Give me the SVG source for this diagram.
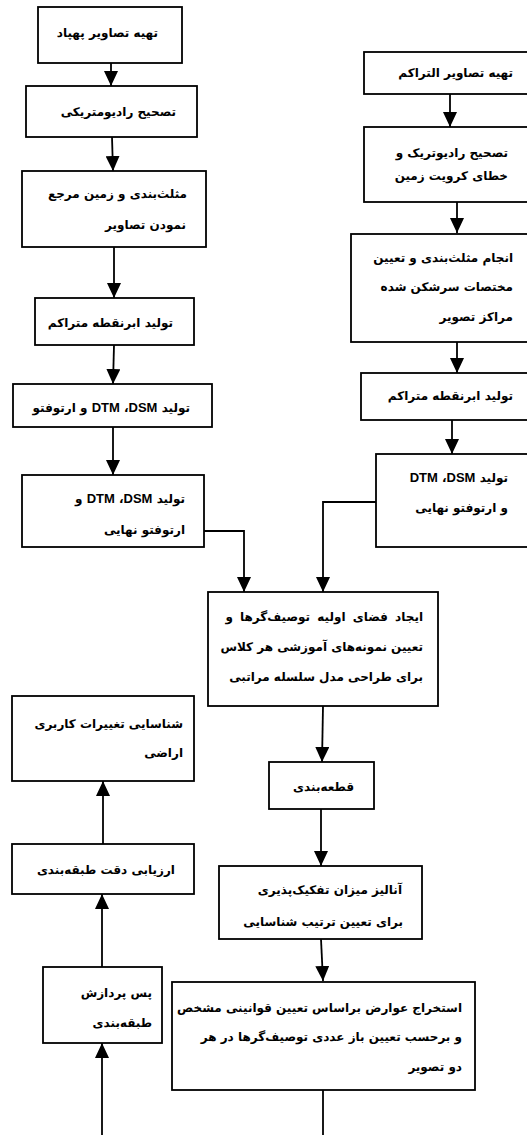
<svg xmlns="http://www.w3.org/2000/svg" width="527" height="1135" viewBox="0 0 527 1135">
<style>
rect.n{fill:#fff;stroke:#000;stroke-width:1.8}
text{font-family:"DejaVu Sans","Noto Sans",sans-serif;font-weight:bold;font-size:12px;fill:#000;direction:rtl;text-anchor:start}
tspan.l{font-family:"Liberation Sans",Arial,sans-serif;font-size:13px}
#connectors path{fill:none;stroke:#000;stroke-width:1.8}
</style>
<defs>
<marker id="ah" viewBox="0 0 15 14" refX="15" refY="7" markerWidth="15" markerHeight="14" markerUnits="userSpaceOnUse" orient="auto">
<path d="M0,0 L15,7 L0,14 z" fill="#000"/>
</marker>
</defs>
<rect width="527" height="1135" fill="#fff"/>
<g id="connectors">
<path d="M111,63 L111,86" marker-end="url(#ah)"/>
<path d="M112,137 L113,171" marker-end="url(#ah)"/>
<path d="M114,247 L114,298" marker-end="url(#ah)"/>
<path d="M114,345 L113,384" marker-end="url(#ah)"/>
<path d="M113,427 L113,475" marker-end="url(#ah)"/>
<path d="M204,531 L244,531 L244,592" marker-end="url(#ah)"/>
<path d="M450,94 L450,127" marker-end="url(#ah)"/>
<path d="M457,202 L457,233" marker-end="url(#ah)"/>
<path d="M457,342 L457,373" marker-end="url(#ah)"/>
<path d="M452,420 L452,454" marker-end="url(#ah)"/>
<path d="M376,502 L323,502 L323,592" marker-end="url(#ah)"/>
<path d="M323,706 L322,762" marker-end="url(#ah)"/>
<path d="M321,809 L321,866" marker-end="url(#ah)"/>
<path d="M321,939 L323,981" marker-end="url(#ah)"/>
<path d="M323,1090 L323,1136"/>
<path d="M102,1136 L102,1043" marker-end="url(#ah)"/>
<path d="M102,967 L102,894" marker-end="url(#ah)"/>
<path d="M103,844 L103,781" marker-end="url(#ah)"/>
</g>
<g id="n1"><rect class="n" x="38" y="7" width="144" height="56"/><text x="158" y="37">تهیه تصاویر پهپاد</text></g>
<g id="n2"><rect class="n" x="26" y="86" width="171" height="51"/><text x="176" y="116">تصحیح رادیومتریکی</text></g>
<g id="n3"><rect class="n" x="22" y="171" width="184" height="76"/><text x="187" y="198">مثلث‌بندی و زمین مرجع</text><text x="186" y="229">نمودن تصاویر</text></g>
<g id="n4"><rect class="n" x="35" y="298" width="159" height="47"/><text x="173" y="327">تولید ابرنقطه متراکم</text></g>
<g id="n5"><rect class="n" x="13" y="384" width="199" height="43"/><text x="190" y="412">تولید <tspan class="l">DSM</tspan>&#x200F;، <tspan class="l">DTM</tspan> و ارتوفتو</text></g>
<g id="n6"><rect class="n" x="22" y="475" width="182" height="72"/><text x="185" y="503">تولید <tspan class="l">DSM</tspan>&#x200F;، <tspan class="l">DTM</tspan> و</text><text x="185" y="534">ارتوفتو نهایی</text></g>
<g id="r1"><rect class="n" x="364" y="52" width="170" height="42"/><text x="513" y="77">تهیه تصاویر التراکم</text></g>
<g id="r2"><rect class="n" x="364" y="127" width="170" height="75"/><text x="508" y="157">تصحیح رادیوتریک و</text><text x="508" y="180">خطای کرویت زمین</text></g>
<g id="r3"><rect class="n" x="351" y="234" width="183" height="108"/><text x="513" y="262">انجام مثلث‌بندی و تعیین</text><text x="513" y="291">مختصات سرشکن شده</text><text x="513" y="321">مراکز تصویر</text></g>
<g id="r4"><rect class="n" x="361" y="373" width="173" height="47"/><text x="513" y="400">تولید ابرنقطه متراکم</text></g>
<g id="r5"><rect class="n" x="376" y="454" width="158" height="93"/><text x="508" y="482">تولید <tspan class="l">DSM</tspan>&#x200F;، <tspan class="l">DTM</tspan></text><text x="508" y="512">و ارتوفتو نهایی</text></g>
<g id="n7"><rect class="n" x="208" y="592" width="230" height="114"/><text x="423" y="621" word-spacing="3">ایجاد فضای اولیه توصیف‌گرها و</text><text x="423" y="651">تعیین نمونه‌های آموزشی هر کلاس</text><text x="423" y="681">برای طراحی مدل سلسله مراتبی</text></g>
<g id="n8"><rect class="n" x="269" y="762" width="105" height="47"/><text x="354" y="791">قطعه‌بندی</text></g>
<g id="n9"><rect class="n" x="219" y="866" width="203" height="73"/><text x="402" y="894">آنالیز میزان تفکیک‌پذیری</text><text x="403" y="926">برای تعیین ترتیب شناسایی</text></g>
<g id="n10"><rect class="n" x="172" y="982" width="303" height="108"/><text x="462" y="1012">استخراج عوارض براساس تعیین قوانینی مشخص</text><text x="462" y="1041">و برحسب  تعیین باز عددی توصیف‌گرها در هر</text><text x="462" y="1071">دو تصویر</text></g>
<g id="l1"><rect class="n" x="12" y="696" width="182" height="85"/><text x="183" y="728">شناسایی تغییرات کاربری</text><text x="183" y="757">اراضی</text></g>
<g id="l2"><rect class="n" x="12" y="844" width="182" height="50"/><text x="175" y="874">ارزیابی دقت طبقه‌بندی</text></g>
<g id="l3"><rect class="n" x="43" y="967" width="119" height="76"/><text x="152" y="997">پس پردازش</text><text x="152" y="1027">طبقه‌بندی</text></g>
</svg>
